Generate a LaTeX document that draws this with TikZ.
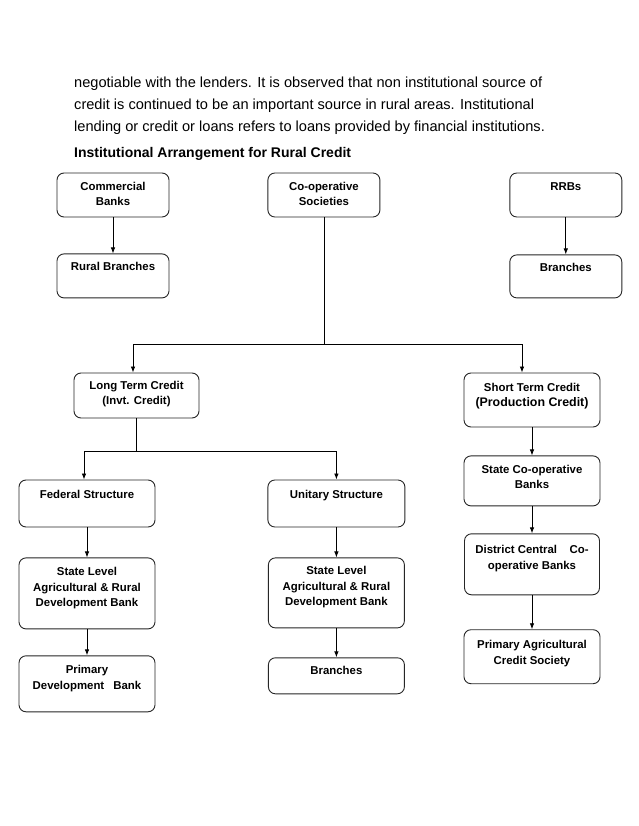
\documentclass[tikz,border=0pt]{standalone}
\usepackage{fontspec}
\setmainfont{Liberation Sans}
\usetikzlibrary{positioning, arrows.meta}

% text hung from the top of a box: [first baseline]{width}{height}{text}
\newcommand{\boxtxt}[4][17.5pt]{\parbox[c][#3][t]{#2}{\centering\rule{0pt}{#1}#4}}

\begin{document}
\begin{tikzpicture}[
  x=1pt, y=-1pt,
  >={Latex[length=6pt,width=4.5pt]},
  box/.style={
    draw=black!85, line width=0.9pt, rounded corners=7pt,
    inner sep=0pt,
    font=\fontsize{11.4}{15.3}\selectfont\bfseries
  },
  para/.style={anchor=base west, inner sep=0pt, font=\fontsize{14.6}{17}\selectfont},
  link/.style={line width=0.8pt}
]
\path[use as bounding box, fill=white] (0,0) rectangle (638,826);

\node[para] (par1) at (74,87.5) {negotiable with the lenders. It is observed that non institutional source of};
\node[para] (par2) at (74,109.5) {credit is continued to be an important source in rural areas. Institutional};
\node[para] (par3) at (74,131.5) {lending or credit or loans refers to loans provided by financial institutions.};
\node[para, font=\fontsize{14}{17}\selectfont\bfseries] (title) at (74,158) {Institutional Arrangement for Rural Credit};

% top row
\node[box] (comm) at (113,195) {\boxtxt{112pt}{44pt}{Commercial\\Banks}};
\node[box, right=98pt of comm] (coop) {\boxtxt{112pt}{44pt}{Co-operative\\Societies}};
\node[box, right=129pt of coop] (rrb) {\boxtxt{112pt}{44pt}{RRBs}};

\node[box, below=36pt of comm] (rural) {\boxtxt[17pt]{112pt}{44pt}{Rural Branches}};
\node[box, below=37pt of rrb] (br1) {\boxtxt[17pt]{112pt}{43pt}{Branches}};

% co-operative credit
\node[box] (long) at (136.5,395.5) {\boxtxt[16.5pt]{125pt}{45pt}{Long Term Credit\\(Invt. Credit)}};
\node[box] (short) at (532,400) {\boxtxt[18.5pt]{136pt}{54pt}{Short Term Credit\\{\fontsize{12.4}{15.5}\selectfont(Production Credit)}}};

\node[box, below=28pt of short] (scb) {\boxtxt{136pt}{50pt}{State Co-operative\\Banks}};
\node[box, below=27pt of scb] (dccb) {\boxtxt[20pt]{135pt}{61pt}{District Central\hspace{1.1em}Co-\\operative Banks}};
\node[box, below=34pt of dccb] (pacs) {\boxtxt[19pt]{136pt}{54pt}{Primary Agricultural\\Credit Society}};

\node[box] (fed) at (87,503.5) {\boxtxt[18pt]{136pt}{47pt}{Federal Structure}};
\node[box, right=112pt of fed] (uni) {\boxtxt[18pt]{137pt}{47pt}{Unitary Structure}};

\node[box, below=30pt of fed] (slf) {\boxtxt[18pt]{136pt}{71pt}{State Level\\Agricultural \& Rural\\Development Bank}};
\node[box, below=26pt of slf] (pdb) {\boxtxt[18pt]{136pt}{56pt}{Primary\\Development\hspace{0.8em}Bank}};
\node[box, below=30pt of uni] (slu) {\boxtxt[17pt]{136pt}{70pt}{State Level\\Agricultural \& Rural\\Development Bank}};
\node[box, below=29pt of slu] (br2) {\boxtxt[16.5pt]{136pt}{36pt}{Branches}};

% straight links
\foreach \a/\b in {comm/rural, rrb/br1, short/scb, scb/dccb, dccb/pacs,
                   fed/slf, slf/pdb, uni/slu, slu/br2}
  \draw[link, ->] (\a) -- (\b);

% co-operative societies split
\coordinate (coopsplit) at (coop.south |- 0,344);
\draw[link] (coop.south) -- (coopsplit);
\draw[link, ->] (coopsplit) -| ([xshift=-3.5pt]long.north);
\draw[link, ->] (coopsplit) -| ([xshift=-10pt]short.north);

% long term split
\coordinate (ltsplit) at (long.south |- 0,451);
\draw[link] (long.south) -- (ltsplit);
\draw[link, ->] (ltsplit) -| ([xshift=-3pt]fed.north);
\draw[link, ->] (ltsplit) -| (uni.north);

\end{tikzpicture}
\end{document}
